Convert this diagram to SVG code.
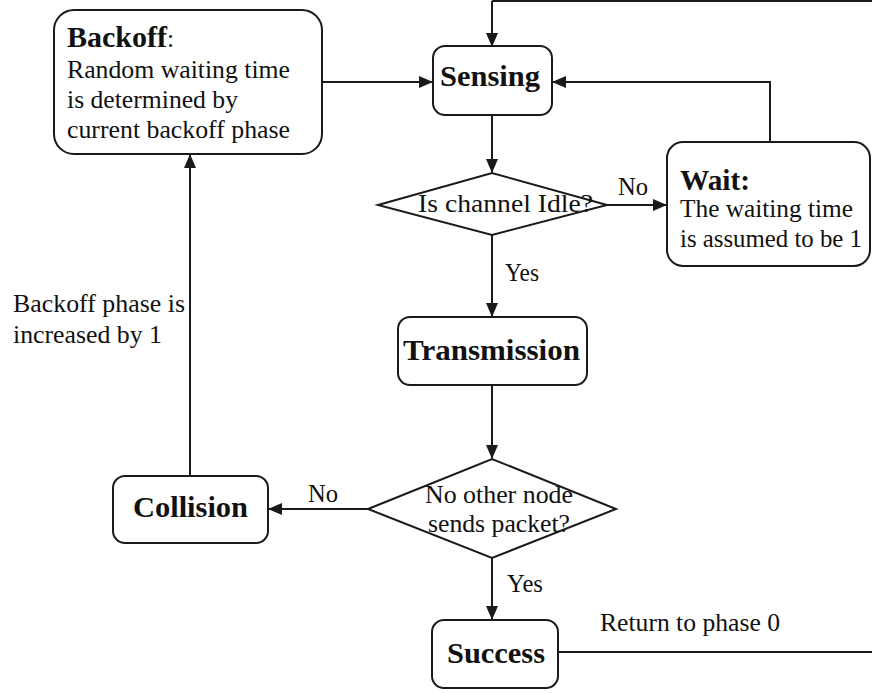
<svg xmlns="http://www.w3.org/2000/svg" width="872" height="693" viewBox="0 0 872 693" font-family="'Liberation Serif', 'Times New Roman', 'DejaVu Serif', serif">
<style>
.box{fill:#fff;stroke:#1a1a1a;stroke-width:2}
.ln{fill:none;stroke:#1a1a1a;stroke-width:2}
text{font-family:'Liberation Serif','Times New Roman','DejaVu Serif',serif;fill:#111;font-size:25.5px}
.b{font-weight:bold;font-size:30px}
</style>
<defs>
<marker id="ah" markerWidth="14" markerHeight="12" refX="13" refY="6" orient="auto" markerUnits="userSpaceOnUse">
<path d="M0,0 L14,6 L0,12 Z" fill="#1a1a1a"/>
</marker>
</defs>
<g id="connectors">
<path class="ln" d="M322,82 H432" marker-end="url(#ah)"/>
<path class="ln" d="M492,1 H872"/>
<path class="ln" d="M492,1 V46" marker-end="url(#ah)"/>
<path class="ln" d="M492,115 V172" marker-end="url(#ah)"/>
<path class="ln" d="M607,205 H666" marker-end="url(#ah)"/>
<path class="ln" d="M770,142 V82 H553" marker-end="url(#ah)"/>
<path class="ln" d="M492,235 V316" marker-end="url(#ah)"/>
<path class="ln" d="M492,385 V458" marker-end="url(#ah)"/>
<path class="ln" d="M368,509 H269" marker-end="url(#ah)"/>
<path class="ln" d="M190,476 V155" marker-end="url(#ah)"/>
<path class="ln" d="M492,558 V619" marker-end="url(#ah)"/>
<path class="ln" d="M558,652 H872"/>
<text x="618" y="195" textLength="30" lengthAdjust="spacingAndGlyphs">No</text>
<text x="505" y="281" textLength="34" lengthAdjust="spacingAndGlyphs">Yes</text>
<text x="308" y="502" textLength="30" lengthAdjust="spacingAndGlyphs">No</text>
<text x="507" y="592" textLength="36" lengthAdjust="spacingAndGlyphs">Yes</text>
<text x="13" y="312" textLength="172" lengthAdjust="spacingAndGlyphs">Backoff phase is</text>
<text x="13" y="343" textLength="149" lengthAdjust="spacingAndGlyphs">increased by 1</text>
<text x="600" y="631" textLength="180" lengthAdjust="spacingAndGlyphs">Return to phase 0</text>
</g>
<g id="backoff">
<rect class="box" x="54" y="10" width="268" height="144" rx="20"/>
<text x="67" y="47"><tspan class="b">Backoff</tspan>:</text>
<text x="67" y="78" textLength="223" lengthAdjust="spacingAndGlyphs">Random waiting time</text>
<text x="67" y="108" textLength="171" lengthAdjust="spacingAndGlyphs">is determined by</text>
<text x="67" y="138" textLength="223" lengthAdjust="spacingAndGlyphs">current backoff phase</text>
</g>
<g id="sensing">
<rect class="box" x="433" y="46" width="119" height="69" rx="12"/>
<text class="b" x="440" y="86" textLength="100" lengthAdjust="spacingAndGlyphs">Sensing</text>
</g>
<g id="idle">
<polygon class="box" points="378,205 492,173 607,205 492,235"/>
<text x="418" y="212" textLength="175" lengthAdjust="spacingAndGlyphs">Is channel Idle?</text>
</g>
<g id="wait">
<rect class="box" x="667" y="142" width="203" height="124" rx="16"/>
<text class="b" x="680" y="190" textLength="70" lengthAdjust="spacingAndGlyphs">Wait:</text>
<text x="680" y="217" textLength="173" lengthAdjust="spacingAndGlyphs">The waiting time</text>
<text x="680" y="247" textLength="182" lengthAdjust="spacingAndGlyphs">is assumed to be 1</text>
</g>
<g id="transmission">
<rect class="box" x="398" y="317" width="189" height="68" rx="12"/>
<text class="b" x="403" y="360" textLength="177" lengthAdjust="spacingAndGlyphs">Transmission</text>
</g>
<g id="othernode">
<polygon class="box" points="368,509 492,459 616,509 492,558"/>
<text x="425" y="503" textLength="148" lengthAdjust="spacingAndGlyphs">No other node</text>
<text x="428" y="532" textLength="142" lengthAdjust="spacingAndGlyphs">sends packet?</text>
</g>
<g id="collision">
<rect class="box" x="113" y="476" width="155" height="67" rx="12"/>
<text class="b" x="133" y="517" textLength="115" lengthAdjust="spacingAndGlyphs">Collision</text>
</g>
<g id="success">
<rect class="box" x="432" y="620" width="126" height="68" rx="12"/>
<text class="b" x="447" y="663" textLength="98" lengthAdjust="spacingAndGlyphs">Success</text>
</g>
</svg>
